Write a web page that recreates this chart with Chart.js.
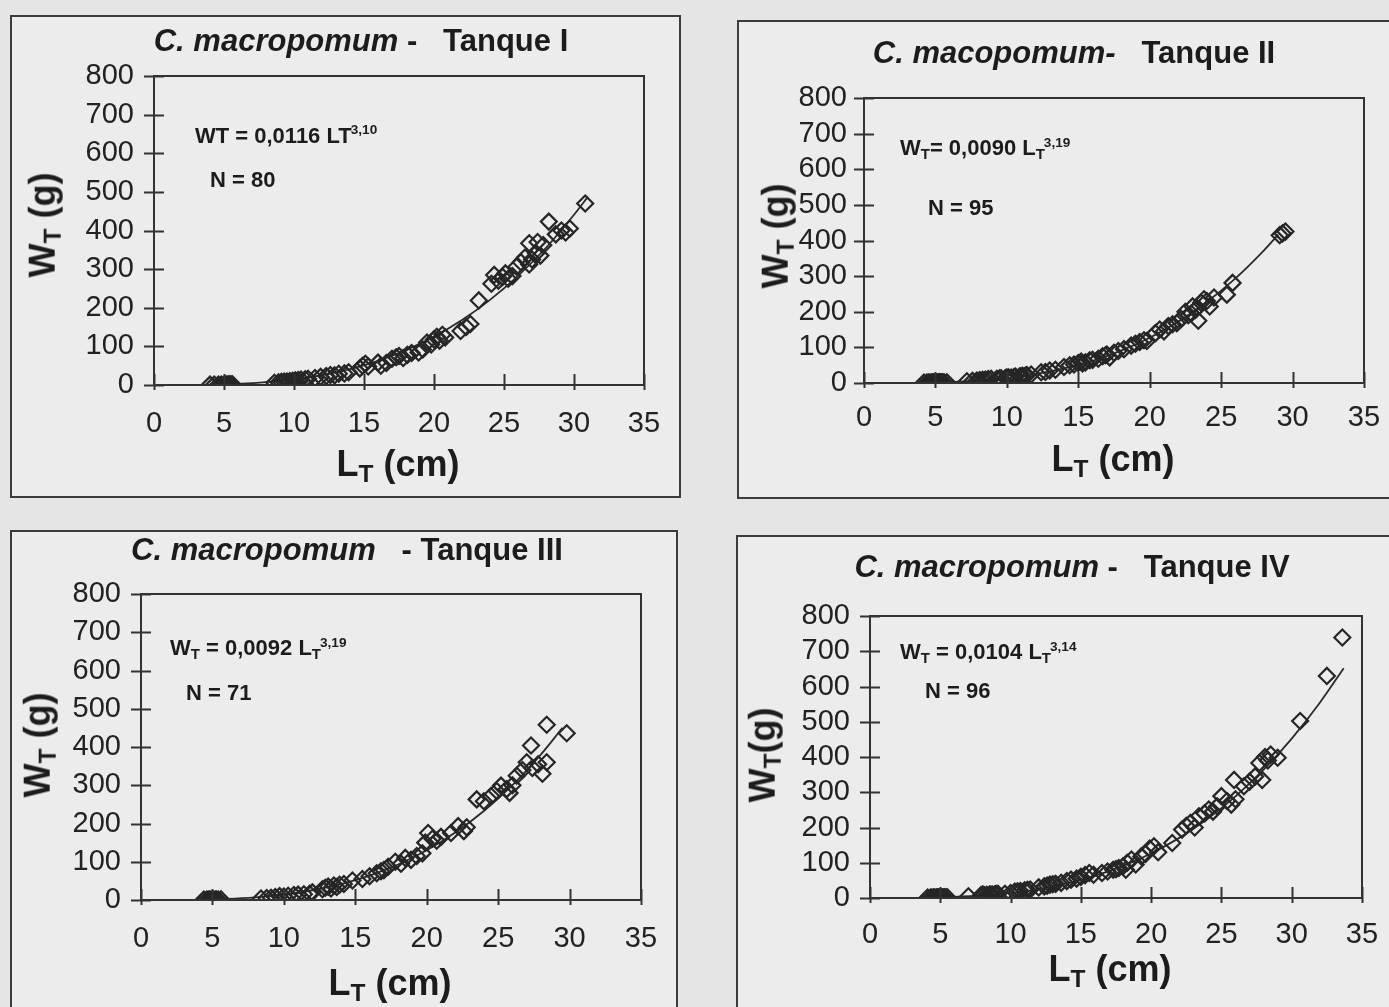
<!DOCTYPE html>
<html>
<head>
<meta charset="utf-8">
<script src="https://cdn.jsdelivr.net/npm/chart.js@4.4.1/dist/chart.umd.min.js"></script>
<style>
  body { margin: 0; width: 1389px; height: 1007px; overflow: hidden; position: relative;
         background: #e5e5e5; font-family: "Liberation Sans", Arial, sans-serif; color: #1c1c1c; }
  .frame { position: absolute; border: 2px solid #3c3c3c; background: #ececec; box-sizing: border-box; }
  canvas { position: absolute; }
  .txt { position: absolute; white-space: pre; font-weight: bold; line-height: 1; }
  .title { font-size: 31px; transform: translate(-50%, -50%); }
  .eq { font-size: 22px; transform: translateY(-50%); }
  .eq sub, .ax sub, .ay sub { font-size: 0.68em; vertical-align: -0.25em; }
  .eq sup { font-size: 0.62em; vertical-align: 0.6em; margin-left: -1px; }
  .ax { font-size: 36px; transform: translate(-50%, -50%); }
  .ay { font-size: 36px; transform: translate(-50%, -50%) rotate(-90deg); }
</style>
</head>
<body>
<script>
// Tanque I  (N = 80)
const lenI = [4.0, 4.3, 4.6, 4.8, 5.0, 5.1, 5.2, 5.3, 5.4, 5.5, 5.6,
  8.6, 8.9, 9.1, 9.3, 9.5, 9.7, 9.9, 10.1, 10.3, 10.5, 10.8, 11.0,
  11.5, 11.9, 12.3, 12.6, 12.9, 13.2, 13.6, 13.9,
  14.7, 14.9, 15.1, 15.3, 16.0, 16.2, 16.6,
  17.0, 17.3, 17.5, 17.8, 18.1, 18.4, 18.9, 19.2,
  19.5, 19.8, 20.0, 20.2, 20.4, 20.6, 20.8,
  21.9, 22.3, 22.6, 23.2,
  24.1, 24.3, 24.6, 24.9, 25.1, 25.3, 25.6,
  25.9, 26.2, 26.5, 26.8, 27.0, 27.3, 27.6,
  26.8, 27.4, 27.8, 28.2, 28.7, 29.1, 29.4, 29.7, 30.8];
const wtI = [0.9, 1, 1.1, 1.2, 1.3, 1.4, 1.4, 1.5, 1.6, 1.7, 1.8,
  6, 7, 8, 9, 9, 10, 11, 12, 13, 14, 15, 16,
  18, 21, 23, 26, 25, 29, 30, 33,
  43, 50, 55, 48, 58, 50, 57,
  68, 72, 75, 70, 78, 83, 84, 92,
  110, 105, 118, 125, 115, 130, 123,
  140, 150, 158, 219,
  262, 285, 270, 280, 289, 275, 282,
  306, 318, 330, 312, 325, 341, 335,
  367, 370, 362, 423, 390, 400, 395, 405, 470];

// Tanque II  (N = 95)
const lenII = [4.2, 4.4, 4.5, 4.6, 4.7, 4.75, 4.8, 4.85, 4.9, 4.95, 5.0, 5.05, 5.1, 5.15,
  5.2, 5.25, 5.3, 5.35, 5.4, 5.5, 5.6, 5.8,
  7.2, 7.6, 7.9, 8.1, 8.3, 8.5, 8.7, 8.9,
  9.3, 9.5, 9.6, 9.9, 10.0, 10.1, 10.3, 10.5, 10.6, 10.9, 11.0, 11.1, 11.3, 11.4, 11.7,
  12.4, 12.7, 13.0, 13.4,
  14.0, 14.4, 14.7, 15.0, 15.2, 15.3, 15.5, 15.8, 16.0,
  16.4, 16.7, 16.9, 17.0, 17.2, 17.5, 17.8, 18.2,
  18.7, 19.0, 19.3, 19.6, 19.8,
  20.4, 20.7, 21.0, 21.3, 21.6, 21.9,
  22.2, 22.5, 22.7, 22.9, 23.0, 23.2, 23.3, 23.4, 23.6, 23.8, 24.0, 24.2, 24.5,
  25.4, 25.8, 29.1, 29.3, 29.5];
const wtII = [1.0, 1.1, 1.1, 1.2, 1.2, 1.2, 1.3, 1.3, 1.3, 1.4, 1.4, 1.4, 1.5, 1.5,
  1.5, 1.6, 1.6, 1.6, 1.7, 1.7, 1.8, 1.9,
  5, 6, 7, 8, 9, 10, 11, 12,
  12, 13, 13, 14, 15, 16, 15, 17, 18, 19, 19, 20, 21, 22, 24,
  30, 31, 35, 37,
  45, 50, 52, 56, 60, 55, 58, 64, 65,
  68, 75, 78, 80, 72, 85, 90, 95,
  105, 110, 115, 120, 118,
  140, 150, 145, 160, 165, 168,
  180, 200, 190, 195, 215, 205, 210, 175, 225, 235, 230, 215, 240,
  248, 281, 415, 420, 425];

// Tanque III  (N = 71)
const lenIII = [4.4, 4.6, 4.7, 4.8, 4.9, 5.0, 5.1, 5.2, 5.3, 5.4, 5.6,
  8.4, 8.8, 9.1, 9.4, 9.7, 10.0, 10.3, 10.7, 11.0, 11.4, 11.8, 12.0,
  12.7, 12.9, 13.1, 13.3, 13.5, 13.7, 13.9, 14.2,
  14.8, 15.5, 16.0, 16.5, 16.8, 17.0,
  17.3, 17.8, 18.2, 18.5, 18.9, 19.3, 19.7,
  19.9, 20.1, 20.4, 20.7, 21.0,
  21.7, 22.2, 22.6, 22.8,
  23.5, 24.0, 24.5, 24.9, 25.2, 25.6, 25.8, 26.0,
  26.3, 26.7, 27.0, 27.4, 27.8, 28.1, 28.4,
  27.3, 28.4, 29.8];
const wtIII = [1, 1, 1, 1.1, 1.1, 1.2, 1.2, 1.3, 1.3, 1.4, 1.5,
  4, 5, 6, 8, 10, 9, 11, 13, 14, 15, 16, 20,
  28, 32, 35, 30, 38, 34, 40, 42,
  51, 55, 62, 70, 75, 78,
  87, 100, 95, 110, 105, 115, 122,
  150, 175, 160, 155, 165,
  175, 193, 180, 190,
  263, 258, 272, 285, 299, 290, 280, 300,
  325, 340, 360, 345, 355, 330, 360,
  404, 458, 436];

// Tanque IV  (N = 96)
const lenIV = [4.1, 4.3, 4.4, 4.5, 4.55, 4.6, 4.7, 4.75, 4.8, 4.85, 4.9, 4.95, 5.0, 5.05,
  5.1, 5.15, 5.2, 5.25, 5.3, 5.4, 5.5,
  7.0, 7.9, 8.0, 8.1, 8.3, 8.5, 8.6, 8.7, 8.9, 9.0, 9.1,
  9.6, 10.0, 10.3, 10.5, 10.7, 11.0, 11.2, 11.4,
  12.0, 12.4, 12.6, 12.8, 13.0, 13.2, 13.6,
  14.0, 14.3, 14.7, 15.0, 15.3, 15.6, 15.9,
  16.5, 16.9, 17.3, 17.5, 17.7,
  18.0, 18.2, 18.3, 18.6, 18.9,
  19.3, 19.6, 19.9, 20.2, 20.5, 21.5,
  22.2, 22.5, 22.8, 23.1, 23.4, 23.8, 24.1, 24.4,
  24.7, 25.0, 25.4, 25.7, 26.0, 25.9, 26.6, 27.0, 27.4, 27.9,
  27.7, 28.1, 28.3, 28.5, 29.0, 30.6, 32.5, 33.6];
const wtIV = [1.0, 1.1, 1.1, 1.2, 1.2, 1.2, 1.3, 1.3, 1.3, 1.4, 1.4, 1.4, 1.5, 1.5,
  1.5, 1.6, 1.6, 1.6, 1.7, 1.8, 1.9,
  5, 8, 10, 9, 9, 10, 10, 10, 11, 11, 12,
  12, 14, 18, 19, 20, 22, 23, 24,
  30, 33, 35, 38, 39, 40, 43,
  48, 52, 55, 60, 65, 71, 66,
  71, 75, 80, 82, 85,
  90, 80, 100, 109, 95,
  118, 125, 140, 147, 130, 156,
  194, 205, 213, 200, 232, 240, 251, 245,
  260, 289, 275, 265, 280, 335, 317, 330, 345, 335,
  383, 400, 390, 407, 398, 502, 630, 739];

// fitted curves, W = a * L^b, as drawn in each panel
const curveLenI = [4, 6, 8, 10, 12, 14, 16, 18, 20, 22, 24, 26, 28, 30, 31];
const curveWtI = [0.85, 3.0, 7.3, 14.6, 25.7, 41.4, 62.7, 90.3, 125.2, 168.2, 220.3, 282.4, 355.3, 440.7, 487.8];
const curveLenII = [4.5, 6, 8, 10, 12, 14, 16, 18, 20, 22, 24, 26, 28, 29];
const curveWtII = [1.1, 2.7, 6.8, 13.9, 24.9, 40.8, 62.4, 90.9, 127.1, 172.3, 227.6, 293.8, 372.6, 416.7];
const curveLenIII = [4, 6, 8, 10, 12, 14, 16, 18, 20, 22, 24, 26, 28, 29.5];
const curveWtIII = [0.8, 2.8, 7.0, 14.2, 25.5, 41.7, 63.8, 92.9, 129.9, 176.2, 232.6, 300.3, 380.8, 449.9];
const curveLenIV = [4.5, 6, 8, 10, 12, 14, 16, 18, 20, 22, 24, 26, 28, 30, 32, 33.7];
const curveWtIV = [1.2, 2.9, 7.1, 14.4, 25.4, 41.3, 62.8, 90.9, 126.4, 170.6, 224.2, 288.4, 364.0, 452.3, 554.1, 652];

const xTicks = [0, 5, 10, 15, 20, 25, 30, 35];
const yTicks = [0, 100, 200, 300, 400, 500, 600, 700, 800];

const panels = [
  { len: lenI, wt: wtI, cLen: curveLenI, cWt: curveWtI,
    frame: [10, 15, 671, 483], area: [154, 76, 644, 385], xPad: 22, yPad: 20,
    title: '<i>C. macropomum</i> -   Tanque I', tpos: [361, 40],
    eq: 'WT = 0,0116 LT<sup>3,10</sup>', epos: [195, 135], n: 'N = 80', npos: [210, 180],
    yl: 'W<sub>T</sub> (g)', ylpos: [45, 225], xl: 'L<sub>T</sub> (cm)', xlpos: [398, 466] },
  { len: lenII, wt: wtII, cLen: curveLenII, cWt: curveWtII,
    frame: [737, 20, 670, 479], area: [864, 98, 1364, 383], xPad: 18, yPad: 17,
    title: '<i>C. macopomum-</i>   Tanque II', tpos: [1074, 52],
    eq: 'W<sub>T</sub>= 0,0090 L<sub>T</sub><sup>3,19</sup>', epos: [900, 149], n: 'N = 95', npos: [928, 208],
    yl: 'W<sub>T</sub> (g)', ylpos: [778, 236], xl: 'L<sub>T</sub> (cm)', xlpos: [1113, 461] },
  { len: lenIII, wt: wtIII, cLen: curveLenIII, cWt: curveWtIII,
    frame: [10, 530, 668, 490], area: [141, 594, 641, 900], xPad: 22, yPad: 20,
    title: '<i>C. macropomum</i>   - Tanque III', tpos: [347, 549],
    eq: 'W<sub>T</sub> = 0,0092 L<sub>T</sub><sup>3,19</sup>', epos: [170, 649], n: 'N = 71', npos: [186, 693],
    yl: 'W<sub>T</sub> (g)', ylpos: [40, 745], xl: 'L<sub>T</sub> (cm)', xlpos: [390, 985] },
  { len: lenIV, wt: wtIV, cLen: curveLenIV, cWt: curveWtIV,
    frame: [736, 535, 670, 490], area: [870, 616, 1362, 898], xPad: 20, yPad: 20,
    title: '<i>C. macropomum</i> -   Tanque IV', tpos: [1072, 566],
    eq: 'W<sub>T</sub> = 0,0104 L<sub>T</sub><sup>3,14</sup>', epos: [900, 653], n: 'N = 96', npos: [925, 691],
    yl: 'W<sub>T</sub>(g)', ylpos: [765, 755], xl: 'L<sub>T</sub> (cm)', xlpos: [1110, 971] }
];

// plot box plus ticks that cross the axes
const crossTicks = {
  id: 'crossTicks',
  afterDraw(chart) {
    const { ctx, chartArea: a, scales } = chart;
    ctx.save();
    ctx.strokeStyle = '#333';
    ctx.lineWidth = 2;
    ctx.strokeRect(a.left, a.top, a.right - a.left, a.bottom - a.top);
    ctx.beginPath();
    yTicks.forEach(v => {
      const y = Math.round(scales.y.getPixelForValue(v)) + 0.5;
      ctx.moveTo(a.left - 10, y);
      ctx.lineTo(a.left + 10, y);
    });
    xTicks.forEach(v => {
      const x = Math.round(scales.x.getPixelForValue(v)) + 0.5;
      ctx.moveTo(x, a.bottom + 5);
      ctx.lineTo(x, a.bottom - 11);
    });
    ctx.stroke();
    ctx.restore();
  }
};

function addDiv(cls, html, pos) {
  const d = document.createElement('div');
  d.className = 'txt ' + cls;
  d.innerHTML = html;
  d.style.left = pos[0] + 'px';
  d.style.top = pos[1] + 'px';
  document.body.appendChild(d);
}

panels.forEach(p => {
  const f = document.createElement('div');
  f.className = 'frame';
  f.style.left = p.frame[0] + 'px';
  f.style.top = p.frame[1] + 'px';
  f.style.width = p.frame[2] + 'px';
  f.style.height = p.frame[3] + 'px';
  document.body.appendChild(f);
});

panels.forEach(p => {
  // padding bigger than the tick label overhang, so the plot box lands where asked
  const yW = 100, xH = 70, padT = 50, padR = 50;
  const [l, t, r, b] = p.area;
  const cv = document.createElement('canvas');
  cv.width = (r - l) + yW + padR;
  cv.height = (b - t) + padT + xH;
  cv.style.left = (l - yW) + 'px';
  cv.style.top = (t - padT) + 'px';
  document.body.appendChild(cv);

  const pts = p.len.map((x, i) => ({ x: x, y: p.wt[i] }));
  const fit = p.cLen.map((x, i) => ({ x: x, y: p.cWt[i] }));
  const tickFont = { family: "'Liberation Sans', Arial, sans-serif", size: 29 };

  new Chart(cv.getContext('2d'), {
    type: 'scatter',
    data: {
      datasets: [{
        data: pts,
        pointStyle: 'rectRot',
        pointRadius: 8,
        borderColor: '#262626',
        borderWidth: 2.2,
        backgroundColor: 'rgba(0,0,0,0)'
      }, {
        type: 'line',
        data: fit,
        borderColor: '#2a2a2a',
        borderWidth: 1.8,
        pointRadius: 0,
        cubicInterpolationMode: 'monotone',
        fill: false
      }]
    },
    options: {
      responsive: false,
      animation: false,
      events: [],
      layout: { padding: { top: padT, right: padR, left: 0, bottom: 0 } },
      plugins: { legend: { display: false }, tooltip: { enabled: false } },
      scales: {
        x: {
          type: 'linear', min: 0, max: 35,
          afterFit: s => { s.height = xH; },
          afterBuildTicks: s => { s.ticks = xTicks.map(v => ({ value: v })); },
          grid: { display: false, drawTicks: false },
          border: { display: false },
          ticks: { font: tickFont, color: '#222', padding: p.xPad, maxRotation: 0, autoSkip: false }
        },
        y: {
          type: 'linear', min: 0, max: 800,
          afterFit: s => { s.width = yW; },
          afterBuildTicks: s => { s.ticks = yTicks.map(v => ({ value: v })); },
          grid: { display: false, drawTicks: false },
          border: { display: false },
          ticks: { font: tickFont, color: '#222', padding: p.yPad, autoSkip: false }
        }
      }
    },
    plugins: [crossTicks]
  });

  addDiv('title', p.title, p.tpos);
  addDiv('eq', p.eq, p.epos);
  addDiv('eq', p.n, p.npos);
  addDiv('ay', p.yl, p.ylpos);
  addDiv('ax', p.xl, p.xlpos);
});
</script>
</body>
</html>
